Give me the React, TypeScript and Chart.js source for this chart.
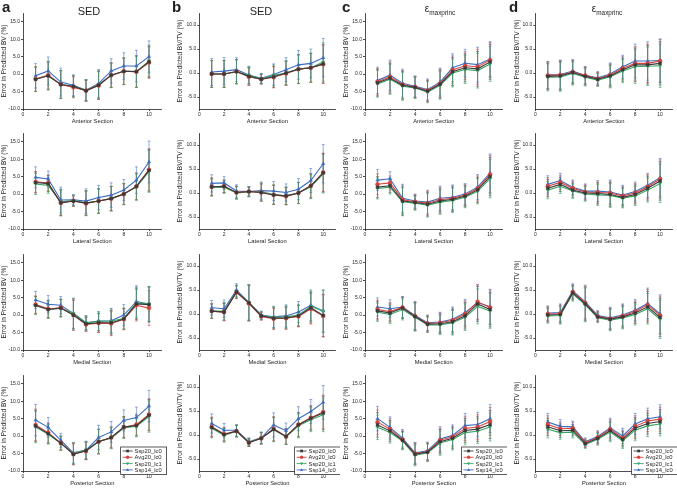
import React, { useEffect, useRef } from "react";
import { Chart, registerables } from "chart.js";
Chart.register(...registerables);

// ---------- data ----------
const SECTIONS = [1, 2, 3, 4, 5, 6, 7, 8, 9, 10];
const SERIES_NAMES = ["Ssp20_lc0", "Avg20_lc0", "Ssp20_lc1", "Ssp14_lc0"];
const X_TICKS = [0, 2, 4, 6, 8, 10];
const Y_TICKS_BV = [-10, -5, 0, 5, 10, 15];
const Y_TICKS_BVTV = [-5, 0, 5, 10];
const ROW_LABELS = ["Anterior Section", "Lateral Section", "Medial Section", "Posterior Section"];
const COL_LETTERS = ["a", "b", "c", "d"];

// order of rows in each panel: Ssp20_lc0, Avg20_lc0, Ssp20_lc1, Ssp14_lc0
const A_ANT = [
  [-1.5, -0.5, -3.0, -3.5, -4.8, -3.2, -0.3, 0.8, 0.7, 3.5],
  [-1.4, -0.3, -3.0, -3.8, -4.7, -3.3, -0.3, 0.8, 0.7, 3.3],
  [-1.5, -0.5, -3.0, -3.5, -4.6, -3.0, -0.4, 0.8, 0.7, 3.8],
  [-0.5, 0.9, -2.3, -3.2, -4.6, -2.7, 0.9, 2.3, 2.3, 5.0],
];
const A_ANT_ERR = [3.5, 4.0, 4.0, 3.0, 3.0, 4.0, 3.5, 3.8, 4.5, 4.5];
const A_LAT = [
  [3.3, 3.0, -2.5, -2.0, -2.6, -2.0, -1.3, 0.0, 2.2, 6.8],
  [3.5, 3.2, -2.5, -2.0, -2.7, -2.0, -1.3, 0.0, 2.2, 7.0],
  [2.9, 2.5, -2.3, -1.8, -2.5, -2.0, -1.3, 0.0, 2.0, 6.5],
  [4.8, 4.3, -1.7, -1.6, -2.0, -1.0, -0.3, 1.2, 4.0, 9.2],
];
const A_LAT_ERR = [3.0, 2.3, 3.7, 1.5, 3.5, 3.5, 3.5, 3.0, 3.8, 6.0];
const A_MED = [
  [2.8, 1.6, 2.0, 0.0, -2.5, -2.2, -2.2, -1.1, 3.2, 3.0],
  [3.0, 1.8, 2.1, 0.0, -2.7, -2.3, -2.4, -1.2, 2.8, 2.0],
  [2.7, 1.6, 2.0, 0.5, -2.2, -1.8, -1.7, -1.0, 3.5, 3.2],
  [4.3, 3.1, 2.8, 0.5, -2.2, -1.7, -1.6, 0.0, 3.9, 3.2],
];
const A_MED_ERR = [2.5, 2.5, 2.5, 4.3, 2.0, 2.7, 3.5, 3.0, 4.5, 5.0];
const A_POST = [
  [2.9, 0.7, -2.0, -5.2, -4.2, -1.6, -0.4, 2.6, 3.0, 6.0],
  [3.2, 1.0, -2.0, -5.2, -4.3, -1.6, -0.4, 2.5, 3.3, 6.2],
  [2.6, 0.5, -2.1, -4.9, -4.0, -1.5, -0.6, 2.3, 2.8, 5.6],
  [4.6, 2.5, -1.2, -4.8, -4.0, -0.4, 1.2, 4.5, 5.3, 8.6],
];
const A_POST_ERR = [4.5, 2.8, 2.0, 3.0, 2.5, 3.5, 3.0, 3.0, 3.0, 4.5];

const B_ANT = [
  [-0.2, -0.2, 0.3, -0.7, -1.3, -0.8, 0.0, 0.8, 1.1, 1.9],
  [-0.2, -0.2, 0.3, -0.8, -1.3, -0.9, -0.1, 0.8, 1.1, 1.8],
  [-0.2, -0.2, 0.2, -0.5, -1.2, -0.5, 0.0, 0.8, 1.1, 2.3],
  [0.2, 0.4, 0.7, -0.4, -1.1, -0.3, 0.7, 1.7, 2.0, 3.2],
];
const B_ANT_ERR = [2.8, 2.8, 2.5, 1.8, 1.0, 2.2, 2.5, 3.0, 3.0, 4.0];
const B_LAT = [
  [1.3, 1.4, 0.1, 0.3, 0.1, -0.4, -0.6, 0.0, 1.5, 4.2],
  [1.3, 1.4, 0.1, 0.3, 0.1, -0.4, -0.7, 0.0, 1.5, 4.3],
  [1.1, 1.2, 0.0, 0.2, 0.3, -0.3, -0.6, 0.0, 1.3, 4.0],
  [2.0, 2.1, 0.4, 0.3, 0.5, 0.4, 0.1, 0.8, 2.6, 6.1],
];
const B_LAT_ERR = [1.8, 1.3, 1.3, 1.0, 1.8, 2.0, 1.8, 2.2, 2.5, 4.0];
const B_MED = [
  [0.6, 0.4, 4.6, 2.3, -0.4, -0.9, -0.8, -0.4, 1.3, -0.3],
  [0.6, 0.4, 4.5, 2.2, -0.5, -1.0, -0.9, -0.5, 1.1, -0.4],
  [0.6, 0.6, 4.7, 2.4, -0.3, -0.7, -0.6, -0.2, 1.6, 0.6],
  [1.3, 1.1, 5.0, 2.4, -0.2, -0.6, -0.4, 0.4, 1.8, 0.6],
];
const B_MED_ERR = [1.5, 1.8, 1.3, 3.7, 0.8, 2.2, 2.3, 2.2, 3.2, 4.4];
const B_POST = [
  [1.6, 0.1, 0.8, -1.6, -0.7, 1.2, -0.3, 2.1, 3.5, 4.6],
  [1.7, 0.2, 0.8, -1.6, -0.7, 1.3, -0.3, 2.2, 3.6, 4.8],
  [1.4, -0.1, 0.8, -1.5, -0.6, 1.1, -0.4, 1.9, 3.2, 4.2],
  [2.4, 1.0, 1.0, -1.4, -0.6, 2.1, 0.9, 3.4, 4.9, 6.8],
];
const B_POST_ERR = [2.0, 1.4, 1.2, 0.8, 1.2, 2.5, 1.6, 2.5, 2.5, 3.5];

const C_ANT = [
  [-2.5, -1.2, -3.2, -3.8, -4.9, -2.9, 0.7, 1.8, 1.5, 3.5],
  [-2.2, -0.8, -3.0, -3.7, -4.7, -2.7, 1.2, 2.4, 2.1, 4.0],
  [-2.8, -1.5, -3.5, -4.0, -5.2, -3.2, 0.3, 1.3, 1.0, 2.9],
  [-1.8, -0.3, -2.6, -3.5, -4.4, -2.3, 1.8, 3.1, 2.7, 4.3],
];
const C_ANT_ERR = [3.8, 4.3, 4.0, 3.0, 3.0, 4.0, 4.0, 4.0, 5.0, 5.0];
const C_LAT = [
  [2.0, 2.4, -2.0, -2.4, -2.9, -2.0, -1.5, -0.6, 1.2, 5.0],
  [2.8, 3.2, -1.6, -2.2, -2.6, -1.6, -1.2, -0.3, 1.6, 5.6],
  [1.6, 2.0, -2.2, -2.6, -3.2, -2.3, -1.8, -0.9, 0.8, 4.4],
  [4.0, 4.4, -1.2, -2.0, -2.3, -1.2, -0.9, 0.0, 2.0, 6.0],
];
const C_LAT_ERR = [3.0, 2.0, 4.0, 2.0, 3.4, 3.5, 3.5, 3.0, 3.6, 5.5];
const C_MED = [
  [1.2, 0.6, 2.0, -0.4, -2.6, -2.5, -1.9, -0.2, 3.2, 1.6],
  [1.6, 1.0, 2.2, -0.3, -2.4, -2.2, -1.5, 0.3, 3.8, 2.2],
  [0.8, 0.2, 1.6, -0.6, -2.8, -2.8, -2.2, -0.6, 2.5, 1.2],
  [2.3, 1.8, 2.3, -0.1, -2.2, -2.0, -1.2, 0.7, 3.6, 2.4],
];
const C_MED_ERR = [2.6, 2.6, 3.0, 4.0, 2.2, 2.8, 3.5, 3.8, 5.0, 5.0];
const C_POST = [
  [3.2, 1.5, -1.2, -5.2, -4.6, -1.6, -0.6, 1.6, 2.0, 3.3],
  [4.0, 2.0, -1.0, -5.0, -4.5, -1.2, -0.2, 2.2, 2.6, 4.2],
  [2.5, 1.0, -1.4, -5.5, -4.8, -2.0, -1.0, 1.0, 1.4, 2.6],
  [5.0, 2.5, -0.6, -4.8, -4.2, -0.8, 0.2, 3.0, 3.3, 5.0],
];
const C_POST_ERR = [3.5, 3.0, 2.5, 3.0, 2.5, 3.5, 3.0, 3.5, 3.5, 4.0];

const D_ANT = [
  [-0.7, -0.6, 0.1, -0.7, -1.3, -0.6, 0.7, 1.7, 1.7, 2.0],
  [-0.5, -0.4, 0.2, -0.5, -1.2, -0.4, 1.0, 2.0, 2.0, 2.5],
  [-0.9, -0.8, -0.1, -0.9, -1.5, -0.8, 0.4, 1.3, 1.4, 1.5],
  [-0.4, -0.3, 0.4, -0.5, -1.0, -0.2, 1.3, 2.5, 2.5, 2.6],
];
const D_ANT_ERR = [2.8, 3.0, 2.4, 1.8, 1.3, 2.3, 2.4, 3.5, 4.0, 4.5];
const D_LAT = [
  [1.0, 1.8, 0.6, 0.0, -0.1, -0.3, -0.9, -0.3, 1.0, 2.5],
  [1.4, 2.2, 1.0, 0.2, 0.1, 0.0, -0.6, 0.0, 1.3, 2.9],
  [0.6, 1.4, 0.4, -0.2, -0.4, -0.5, -1.1, -0.6, 0.6, 2.0],
  [1.8, 2.6, 1.2, 0.4, 0.4, 0.2, -0.4, 0.3, 1.6, 3.2],
];
const D_LAT_ERR = [1.8, 1.5, 1.5, 1.5, 2.2, 2.5, 2.0, 2.0, 2.5, 4.0];
const D_MED = [
  [-0.2, -0.1, 4.4, 2.1, -0.6, -1.1, -0.6, 0.2, 1.5, -0.7],
  [0.0, 0.1, 4.6, 2.3, -0.5, -1.0, -0.4, 0.5, 1.9, -0.3],
  [-0.4, -0.3, 4.2, 1.9, -0.8, -1.3, -0.8, -0.1, 1.1, -1.1],
  [0.2, 0.3, 4.8, 2.5, -0.3, -0.8, -0.2, 0.8, 2.2, 0.0],
];
const D_MED_ERR = [1.5, 1.8, 1.5, 3.5, 1.0, 2.2, 2.3, 2.2, 3.2, 4.0];
const D_POST = [
  [1.7, 0.9, 1.0, -1.8, -0.7, 0.9, -0.9, 1.4, 2.4, 2.8],
  [2.2, 1.3, 1.4, -1.6, -0.5, 1.2, -0.6, 1.8, 2.9, 3.3],
  [1.2, 0.5, 0.6, -2.0, -0.9, 0.6, -1.2, 1.0, 1.9, 2.3],
  [2.7, 1.8, 1.7, -1.4, -0.3, 1.5, -0.2, 2.3, 3.4, 3.8],
];
const D_POST_ERR = [1.8, 1.4, 1.2, 0.8, 1.2, 2.0, 1.6, 2.2, 2.2, 2.5];

// ---------- styling ----------
const FONT = "'Liberation Sans', Arial, Helvetica, sans-serif";
const INK = "#1e1e1e";
const COLORS = ["#3a3a3a", "#d8433b", "#3aa466", "#3c6cc2"];
const ERR_COLORS = ["rgba(58,58,58,0.7)", "rgba(216,67,59,0.7)", "rgba(58,164,102,0.8)", "rgba(60,108,194,0.7)"];
const POINT_STYLES = ["rect", "circle", "triangle", "triangle"];
const POINT_ROT = [0, 0, 180, 0];

type ColGeo = { left: number; width: number; plotLeft: number; padRight: number; yTitlePad: number; bvtv: boolean };
const COLS: ColGeo[] = [
  { left: 0, width: 170, plotLeft: 23, padRight: 8.4, yTitlePad: 0, bvtv: false },
  { left: 170, width: 170, plotLeft: 29.3, padRight: 3.5, yTitlePad: 6, bvtv: true },
  { left: 340, width: 167, plotLeft: 25, padRight: 3.7, yTitlePad: 2, bvtv: false },
  { left: 507, width: 170, plotLeft: 28.3, padRight: 4.2, yTitlePad: 6, bvtv: true },
];
const ROW_TOPS = [0, 120, 241, 362];
const PLOT_TOP = 13;
const PLOT_H = 96;
const X_AXIS_H = 17;

const PANEL_DATA = [
  [A_ANT, A_LAT, A_MED, A_POST],
  [B_ANT, B_LAT, B_MED, B_POST],
  [C_ANT, C_LAT, C_MED, C_POST],
  [D_ANT, D_LAT, D_MED, D_POST],
];
const PANEL_ERR = [
  [A_ANT_ERR, A_LAT_ERR, A_MED_ERR, A_POST_ERR],
  [B_ANT_ERR, B_LAT_ERR, B_MED_ERR, B_POST_ERR],
  [C_ANT_ERR, C_LAT_ERR, C_MED_ERR, C_POST_ERR],
  [D_ANT_ERR, D_LAT_ERR, D_MED_ERR, D_POST_ERR],
];

function drawMarker(ctx: CanvasRenderingContext2D, style: string, rot: number, x: number, y: number, r: number) {
  ctx.beginPath();
  if (style === "rect") {
    ctx.rect(x - r * 0.8, y - r * 0.8, r * 1.6, r * 1.6);
  } else if (style === "circle") {
    ctx.arc(x, y, r, 0, Math.PI * 2);
  } else {
    const s = rot === 180 ? -1 : 1;
    ctx.moveTo(x, y - s * r);
    ctx.lineTo(x + r * 0.9, y + s * r * 0.6);
    ctx.lineTo(x - r * 0.9, y + s * r * 0.6);
    ctx.closePath();
  }
  ctx.fill();
}

type PanelProps = { col: number; row: number };

function Panel({ col, row }: PanelProps) {
  const ref = useRef<HTMLCanvasElement>(null);
  const g = COLS[col];
  const top = ROW_TOPS[row];
  const height = PLOT_TOP + PLOT_H + X_AXIS_H;
  useEffect(() => {
    const vals = PANEL_DATA[col][row];
    const err = PANEL_ERR[col][row];
    const yMin = g.bvtv ? -7.5 : -10;
    const yMax = g.bvtv ? 12.5 : 17.5;
    const yTicks = g.bvtv ? Y_TICKS_BVTV : Y_TICKS_BV;
    const withLegend = row === 3;

    const errPlugin = {
      id: "errbars",
      beforeDatasetsDraw(chart: any) {
        const { ctx } = chart;
        const xs = chart.scales.x;
        const ys = chart.scales.y;
        ctx.save();
        [0, 1, 3, 2].forEach((di) => {
          const ds = chart.data.datasets[di];
          ctx.strokeStyle = ERR_COLORS[di];
          ctx.lineWidth = 0.8;
          (ds.data as any[]).forEach((p, i) => {
            const px = xs.getPixelForValue(p.x);
            const t = ys.getPixelForValue(p.y + err[i]);
            const b = ys.getPixelForValue(p.y - err[i]);
            ctx.beginPath();
            ctx.moveTo(px, t);
            ctx.lineTo(px, b);
            ctx.moveTo(px - 1.4, t);
            ctx.lineTo(px + 1.4, t);
            ctx.moveTo(px - 1.4, b);
            ctx.lineTo(px + 1.4, b);
            ctx.stroke();
          });
        });
        ctx.restore();
      },
    };

    const legendPlugin = {
      id: "boxlegend",
      afterDraw(chart: any) {
        if (!withLegend) return;
        const { ctx, chartArea: ca } = chart;
        const w = 46;
        const h = 27.5;
        const lx = ca.right + 5 - w;
        const ty = ca.bottom + 3.5 - h;
        ctx.save();
        ctx.fillStyle = "#fff";
        ctx.fillRect(lx, ty, w, h);
        ctx.strokeStyle = "#333";
        ctx.lineWidth = 0.8;
        ctx.strokeRect(lx, ty, w, h);
        ctx.font = `5.8px ${FONT}`;
        ctx.textBaseline = "middle";
        ctx.textAlign = "left";
        SERIES_NAMES.forEach((name, i) => {
          const cy = ty + 4 + i * 6.3;
          ctx.strokeStyle = COLORS[i];
          ctx.lineWidth = 0.9;
          ctx.beginPath();
          ctx.moveTo(lx + 2, cy);
          ctx.lineTo(lx + 12, cy);
          ctx.stroke();
          ctx.fillStyle = COLORS[i];
          drawMarker(ctx, POINT_STYLES[i], POINT_ROT[i], lx + 7, cy, 1.7);
          ctx.fillStyle = INK;
          ctx.fillText(name, lx + 14, cy + 0.3);
        });
        ctx.restore();
      },
    };

    const chart = new Chart(ref.current as HTMLCanvasElement, {
      type: "line",
      data: {
        datasets: vals.map((v, i) => ({
          label: SERIES_NAMES[i],
          data: v.map((y, j) => ({ x: SECTIONS[j], y })),
          borderColor: COLORS[i],
          backgroundColor: COLORS[i],
          borderWidth: 1.1,
          pointStyle: POINT_STYLES[i] as any,
          rotation: POINT_ROT[i],
          pointRadius: 2,
          pointBorderWidth: 0.4,
          tension: 0,
        })),
      },
      options: {
        animation: false,
        responsive: false,
        devicePixelRatio: 1,
        layout: { padding: { top: PLOT_TOP, right: g.padRight, left: 0, bottom: 0 } },
        plugins: { legend: { display: false }, tooltip: { enabled: false }, title: { display: false } },
        scales: {
          x: {
            type: "linear",
            min: 0,
            max: 11,
            afterBuildTicks: (s: any) => {
              s.ticks = X_TICKS.map((v) => ({ value: v }));
            },
            afterFit: (s: any) => {
              s.height = X_AXIS_H;
            },
            ticks: { font: { size: 5, family: FONT }, color: INK, padding: 1, maxRotation: 0, autoSkip: false },
            grid: { display: true, drawOnChartArea: false, drawTicks: true, tickLength: 2, color: INK, lineWidth: 0.8 },
            border: { display: true, color: INK, width: 0.8 },
            title: {
              display: true,
              text: ROW_LABELS[row],
              font: { size: 5.8, family: FONT },
              color: INK,
              padding: { top: 0, bottom: 1 },
            },
          },
          y: {
            type: "linear",
            min: yMin,
            max: yMax,
            afterBuildTicks: (s: any) => {
              s.ticks = yTicks.map((v) => ({ value: v }));
            },
            afterFit: (s: any) => {
              s.width = g.plotLeft;
            },
            ticks: {
              font: { size: 5, family: FONT },
              color: INK,
              padding: 1,
              callback: (v: any) => Number(v).toFixed(1),
            },
            grid: { display: true, drawOnChartArea: false, drawTicks: true, tickLength: 2, color: INK, lineWidth: 0.8 },
            border: { display: true, color: INK, width: 0.8 },
            title: {
              display: true,
              text: g.bvtv ? "Error in Predicted BV/TV (%)" : "Error in Predicted BV (%)",
              font: { size: 6.5, family: FONT },
              color: INK,
              padding: { top: g.yTitlePad, bottom: 0 },
            },
          },
        },
      },
      plugins: [errPlugin, legendPlugin],
    } as any);
    return () => chart.destroy();
  }, [col, row]);
  return (
    <canvas
      ref={ref}
      width={g.width}
      height={height}
      style={{ position: "absolute", left: g.left, top, width: g.width, height, display: "block" }}
    />
  );
}

const TITLE_CENTERS = [89, 261, 440, 607];

export default function App() {
  const panels: PanelProps[] = [];
  for (let c = 0; c < 4; c++) for (let r = 0; r < 4; r++) panels.push({ col: c, row: r });
  return (
    <div
      style={{
        position: "absolute",
        left: 0,
        top: 0,
        width: 677,
        height: 489,
        background: "#fff",
        overflow: "hidden",
        fontFamily: FONT,
        color: INK,
      }}
    >
      {panels.map((p) => (
        <Panel key={`${p.col}-${p.row}`} col={p.col} row={p.row} />
      ))}
      {COL_LETTERS.map((l, i) => (
        <div
          key={l}
          style={{
            position: "absolute",
            left: COLS[i].left + 2,
            top: -1,
            fontSize: 15,
            lineHeight: "15px",
            fontWeight: "bold",
            whiteSpace: "nowrap",
          }}
        >
          {l}
        </div>
      ))}
      {[0, 1].map((i) => (
        <div
          key={`t${i}`}
          style={{
            position: "absolute",
            left: TITLE_CENTERS[i],
            top: 5.5,
            transform: "translateX(-50%)",
            fontSize: 11,
            lineHeight: "11px",
            whiteSpace: "nowrap",
          }}
        >
          SED
        </div>
      ))}
      {[2, 3].map((i) => (
        <div
          key={`t${i}`}
          style={{
            position: "absolute",
            left: TITLE_CENTERS[i],
            top: 4,
            transform: "translateX(-50%)",
            fontSize: 10,
            lineHeight: "10px",
            whiteSpace: "nowrap",
          }}
        >
          ε
          <span style={{ fontSize: 6.4, position: "relative", top: 3 }}>maxprinc</span>
        </div>
      ))}
    </div>
  );
}
